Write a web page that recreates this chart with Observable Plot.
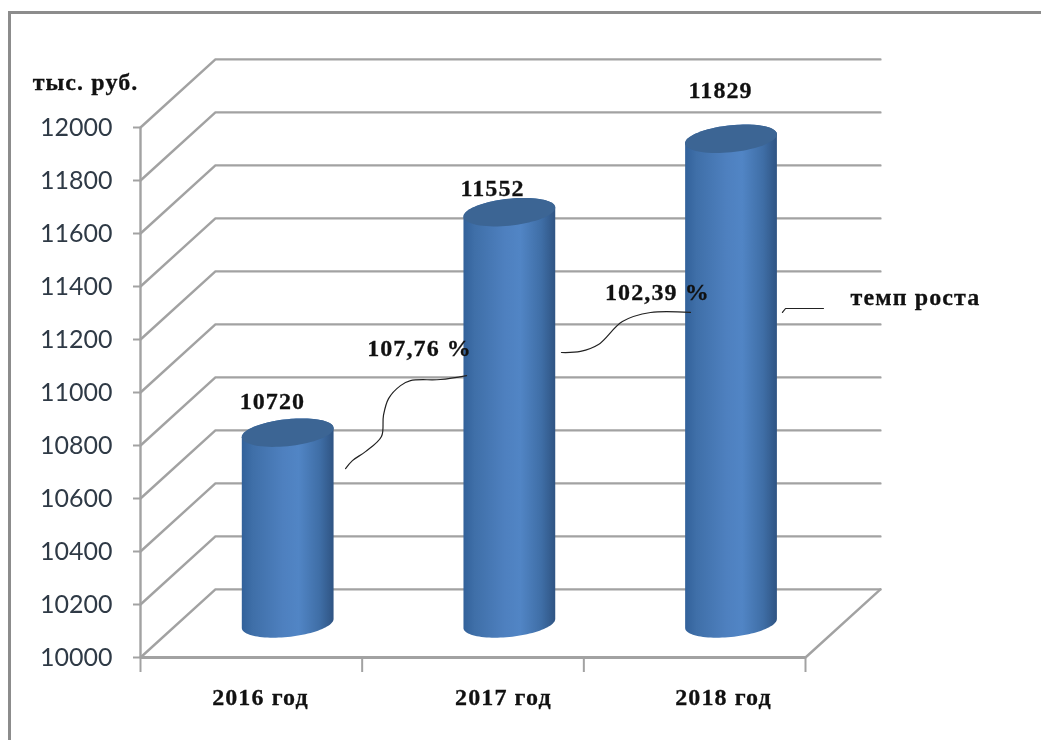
<!DOCTYPE html>
<html><head><meta charset="utf-8">
<style>
html,body{margin:0;padding:0;background:#fff;overflow:hidden}
#wrap{position:relative;width:1041px;height:742px}
#wrap svg{position:absolute;left:0;top:0;filter:blur(.45px)}
#wrap svg g[font-weight="bold"]{letter-spacing:1.1px;stroke:#111;stroke-width:.3px}
#edge{position:absolute;left:8px;top:11px;right:-5px;bottom:2px;border-left:3px solid #8c8c8c;border-top:3px solid #8c8c8c}
</style>
<script src="https://cdn.jsdelivr.net/npm/d3@7"></script>
<script src="https://cdn.jsdelivr.net/npm/@observablehq/plot@0.6"></script>
</head><body><div id="wrap"><div id="edge"></div></div>
<script>
const categories = ["2016 год", "2017 год", "2018 год"];
const values = [10720, 11552, 11829];
const yTicks = [10000,10200,10400,10600,10800,11000,11200,11400,11600,11800,12000];
const valueLabelX = [0.595, 1.588, 2.617];
const valueLabelY = [10966, 11770, 12140];
const categoryLabelX = [0.541, 1.637, 2.63];
const categoryLabelY = 9850;
const notes = ["тыс. руб.", "107,76 %", "102,39 %", "темп роста"];
const notesX = [-0.248, 1.259, 2.332, 3.496];
const notesY = [12170, 11166, 11377, 11358];
const connectorA = [[0.925,10713],[0.956,10743],[1.015,10777],[1.087,10834],[1.096,10913],[1.119,10977],[1.173,11026],[1.218,11045],[1.353,11049],[1.471,11064]];
const connectorB = [[1.899,11151],[1.985,11155],[2.066,11181],[2.174,11268],[2.301,11302],[2.481,11302]];
const connectorC = [[2.896,11302],[2.910,11317],[2.932,11317],[3.081,11317]];

// 3D box depth, in scale units
const depthX = 0.338, depthY = 257;
// cylinder shape, in scale units
const radX = 0.207, radY = 51, tilt = 17;

const grid = yTicks.flatMap(v => [
  {s:v, x:0, y:v}, {s:v, x:depthX, y:v+depthY}, {s:v, x:3+depthX, y:v+depthY}
]);
const floorEdge = [{x:3,y:10000},{x:3+depthX,y:10000+depthY}];

function ellipsePoint(cx, cv, t){
  return {x: cx + radX*Math.cos(t), y: cv + radY*Math.sin(t) + tilt*Math.cos(t)};
}
const steps = d3.range(0, 49).map(i => Math.PI + i/48*Math.PI);
const bodies = [], caps = [];
values.forEach((v,i) => {
  const cx = i + 0.495 + depthX/2;
  const top = v + depthY/2, base = 10000 + depthY/2;
  const pts = [ellipsePoint(cx, top, Math.PI), ...steps.map(t => ellipsePoint(cx, base, t)), ellipsePoint(cx, top, 0)];
  pts.push(...steps.map(t => ellipsePoint(cx, top, t - Math.PI)));
  pts.forEach(p => bodies.push({...p, s:i}));
  d3.range(0,73).forEach(k => caps.push({...ellipsePoint(cx, top, k/72*2*Math.PI), s:i}));
});

const gradient = () => {
  const defs = d3.create("svg:defs");
  const g = defs.append("linearGradient").attr("id","cyl");
  [[0,"#32619a"],[0.12,"#3f6fa8"],[0.45,"#4e80bf"],[0.62,"#5185c5"],[0.85,"#3f6ea6"],[1,"#2f5483"]]
    .forEach(([o,c]) => g.append("stop").attr("offset",o).attr("stop-color",c));
  return defs.node();
};

const serif = "'Liberation Serif','Times New Roman',serif";
const boldText = {fontFamily: serif, fontWeight:"bold", fontSize:24, fill:"#111"};
const pathOf = a => a.map(([x,y]) => ({x,y}));
const axisGrey = "#a2a2a2";

const plot = Plot.plot({
  width:1041, height:742,
  marginLeft:140, marginRight:236, marginTop:127, marginBottom:85,
  x:{type:"linear", domain:[0,3]},
  y:{type:"linear", domain:[10000,12000]},
  style:{background:"transparent", overflow:"visible"},
  marks:[
    gradient,
    Plot.line(grid,{x:"x",y:"y",z:"s",stroke:axisGrey,strokeWidth:2.4,curve:"linear"}),
    Plot.line(floorEdge,{x:"x",y:"y",stroke:axisGrey,strokeWidth:2.4}),
    Plot.ruleY([10000],{x1:0,x2:3,stroke:axisGrey,strokeWidth:3}),
    Plot.ruleX([0],{y1:10000,y2:12000,stroke:axisGrey,strokeWidth:2.4}),
    Plot.axisY({ticks:yTicks,tickFormat:d=>String(d),tickSize:7,tickPadding:21,stroke:axisGrey,strokeWidth:2,label:null,
      fontFamily:"Lato",fontSize:25,fill:"#2f3a46"}),
    Plot.axisX({ticks:[0,1,2,3],tickFormat:()=>"",tickSize:15,stroke:axisGrey,strokeWidth:2,label:null}),
    Plot.line(bodies,{x:"x",y:"y",z:"s",fill:"url(#cyl)",stroke:"none",curve:"linear"}),
    Plot.line(caps,{x:"x",y:"y",z:"s",fill:"#3c6594",stroke:"none",curve:"linear"}),
    Plot.line(pathOf(connectorA),{x:"x",y:"y",stroke:"#222",strokeWidth:1.2,curve:"catmull-rom"}),
    Plot.line(pathOf(connectorB),{x:"x",y:"y",stroke:"#222",strokeWidth:1.2,curve:"catmull-rom"}),
    Plot.line(pathOf(connectorC),{x:"x",y:"y",stroke:"#222",strokeWidth:1.2,curve:"linear"}),
    Plot.text(values,{x:(d,i)=>valueLabelX[i],y:(d,i)=>valueLabelY[i],text:d=>String(d),...boldText}),
    Plot.text(categories,{x:(d,i)=>categoryLabelX[i],y:()=>categoryLabelY,text:d=>d,...boldText}),
    Plot.text(notes,{x:(d,i)=>notesX[i],y:(d,i)=>notesY[i],text:d=>d,...boldText})
  ]
});
document.getElementById("wrap").appendChild(plot);
</script></body></html>
